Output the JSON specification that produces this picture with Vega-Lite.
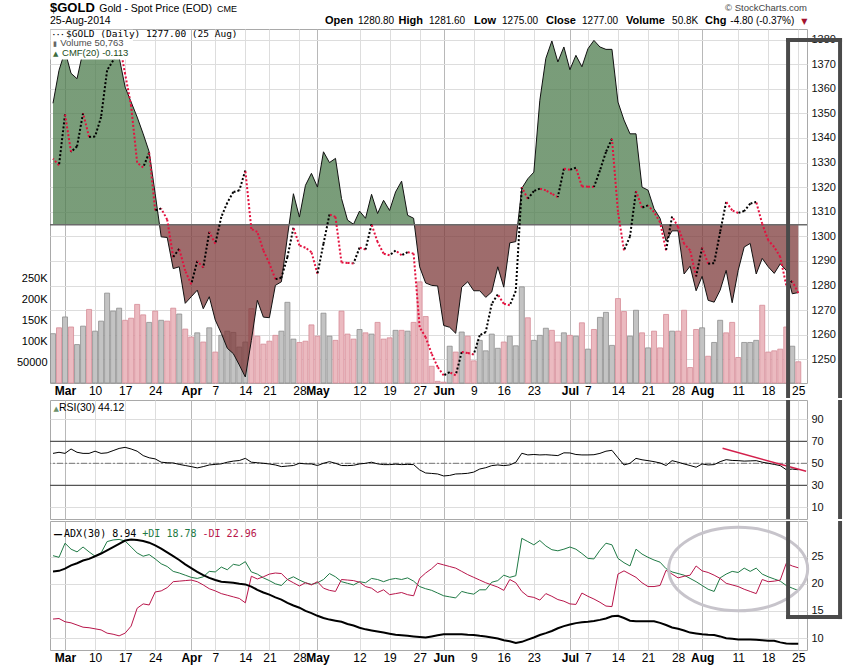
{
  "$schema": "https://vega.github.io/schema/vega-lite/v6.json",
  "padding": {"left": 15, "top": 1, "right": 2, "bottom": 2},
  "spacing": 0,
  "config": {
    "font": "Liberation Sans",
    "view": {"stroke": "#a9a9a9", "strokeWidth": 1},
    "axis": {"labelFont": "Liberation Sans", "labelFontSize": 11, "labelColor": "#111111", "gridColor": "#dddddd", "ticks": false, "domain": false}
  },
  "datasets": {
    "gold": [
      {"i":0,"date":"2014-02-27","close":1331.6,"volume":118000,"up":true,"cmf":0.203,"rsi":59,"adx":22.3,"pdi":25.2,"mdi":13.5},
      {"i":1,"date":"2014-02-28","close":1328.9,"volume":132000,"up":false,"cmf":0.258,"rsi":60,"adx":22.4,"pdi":24.9,"mdi":13.6},
      {"i":2,"date":"2014-03-03","close":1349.6,"volume":158000,"up":true,"cmf":0.29,"rsi":59,"adx":22.8,"pdi":27.5,"mdi":13.0},
      {"i":3,"date":"2014-03-04","close":1334.3,"volume":134000,"up":false,"cmf":0.253,"rsi":63,"adx":23.4,"pdi":26.4,"mdi":12.8},
      {"i":4,"date":"2014-03-05","close":1336.6,"volume":92000,"up":true,"cmf":0.244,"rsi":60,"adx":23.8,"pdi":25.9,"mdi":12.4},
      {"i":5,"date":"2014-03-06","close":1350.1,"volume":136000,"up":true,"cmf":0.29,"rsi":59,"adx":24.3,"pdi":26.8,"mdi":12.0},
      {"i":6,"date":"2014-03-07","close":1340.4,"volume":176000,"up":false,"cmf":0.30,"rsi":59,"adx":24.6,"pdi":25.9,"mdi":11.9},
      {"i":7,"date":"2014-03-10","close":1340.6,"volume":124000,"up":true,"cmf":0.30,"rsi":61,"adx":25.1,"pdi":25.1,"mdi":11.7},
      {"i":8,"date":"2014-03-11","close":1348.5,"volume":148000,"up":true,"cmf":0.305,"rsi":59,"adx":25.6,"pdi":25.7,"mdi":11.5},
      {"i":9,"date":"2014-03-12","close":1367.5,"volume":215000,"up":true,"cmf":0.30,"rsi":59.5,"adx":26.2,"pdi":27.8,"mdi":10.9},
      {"i":10,"date":"2014-03-13","close":1371.5,"volume":172000,"up":true,"cmf":0.297,"rsi":61.5,"adx":26.8,"pdi":28.1,"mdi":10.7},
      {"i":11,"date":"2014-03-14","close":1379.0,"volume":179000,"up":true,"cmf":0.28,"rsi":63.5,"adx":27.4,"pdi":28.2,"mdi":10.4},
      {"i":12,"date":"2014-03-17","close":1366.0,"volume":150000,"up":false,"cmf":0.23,"rsi":64.5,"adx":28.0,"pdi":27.9,"mdi":10.9},
      {"i":13,"date":"2014-03-18","close":1353.0,"volume":155000,"up":false,"cmf":0.205,"rsi":63,"adx":28.2,"pdi":26.8,"mdi":12.2},
      {"i":14,"date":"2014-03-19","close":1330.0,"volume":188000,"up":false,"cmf":0.18,"rsi":61,"adx":28.1,"pdi":25.7,"mdi":15.5},
      {"i":15,"date":"2014-03-20","close":1328.0,"volume":163000,"up":false,"cmf":0.152,"rsi":57,"adx":27.9,"pdi":25.1,"mdi":16.3},
      {"i":16,"date":"2014-03-21","close":1334.0,"volume":145000,"up":true,"cmf":0.122,"rsi":55,"adx":27.6,"pdi":25.4,"mdi":16.1},
      {"i":17,"date":"2014-03-24","close":1310.6,"volume":172000,"up":false,"cmf":0.052,"rsi":54,"adx":27.1,"pdi":24.6,"mdi":18.5},
      {"i":18,"date":"2014-03-25","close":1311.3,"volume":150000,"up":true,"cmf":-0.02,"rsi":51,"adx":26.5,"pdi":23.7,"mdi":18.7},
      {"i":19,"date":"2014-03-26","close":1306.8,"volume":148000,"up":false,"cmf":-0.021,"rsi":50.5,"adx":25.8,"pdi":23.2,"mdi":19.3},
      {"i":20,"date":"2014-03-27","close":1291.6,"volume":179000,"up":false,"cmf":-0.073,"rsi":50.3,"adx":25.1,"pdi":22.3,"mdi":20.4},
      {"i":21,"date":"2014-03-28","close":1294.9,"volume":165000,"up":true,"cmf":-0.07,"rsi":49,"adx":24.4,"pdi":22.0,"mdi":20.5},
      {"i":22,"date":"2014-03-31","close":1286.0,"volume":129000,"up":false,"cmf":-0.131,"rsi":48,"adx":23.6,"pdi":21.6,"mdi":20.6},
      {"i":23,"date":"2014-04-01","close":1280.5,"volume":110000,"up":false,"cmf":-0.12,"rsi":47,"adx":22.9,"pdi":21.2,"mdi":20.7},
      {"i":24,"date":"2014-04-02","close":1290.0,"volume":120000,"up":true,"cmf":-0.109,"rsi":45.8,"adx":22.2,"pdi":21.0,"mdi":20.4},
      {"i":25,"date":"2014-04-03","close":1287.3,"volume":98000,"up":false,"cmf":-0.14,"rsi":47,"adx":21.6,"pdi":21.3,"mdi":19.8},
      {"i":26,"date":"2014-04-04","close":1301.8,"volume":132000,"up":true,"cmf":-0.12,"rsi":48.5,"adx":21.1,"pdi":22.3,"mdi":19.1},
      {"i":27,"date":"2014-04-07","close":1297.0,"volume":74000,"up":false,"cmf":-0.159,"rsi":49,"adx":20.7,"pdi":22.2,"mdi":18.7},
      {"i":28,"date":"2014-04-08","close":1307.9,"volume":114000,"up":true,"cmf":-0.181,"rsi":49.5,"adx":20.4,"pdi":23.1,"mdi":18.2},
      {"i":29,"date":"2014-04-09","close":1313.7,"volume":124000,"up":true,"cmf":-0.206,"rsi":51,"adx":20.3,"pdi":22.6,"mdi":17.9},
      {"i":30,"date":"2014-04-10","close":1318.0,"volume":121000,"up":true,"cmf":-0.215,"rsi":52,"adx":20.2,"pdi":23.6,"mdi":17.6},
      {"i":31,"date":"2014-04-11","close":1318.7,"volume":86000,"up":true,"cmf":-0.234,"rsi":52.5,"adx":20.0,"pdi":23.4,"mdi":17.3},
      {"i":32,"date":"2014-04-14","close":1326.8,"volume":98000,"up":true,"cmf":-0.254,"rsi":54.5,"adx":19.9,"pdi":24.1,"mdi":16.5},
      {"i":33,"date":"2014-04-15","close":1303.0,"volume":178000,"up":false,"cmf":-0.193,"rsi":51,"adx":19.5,"pdi":22.2,"mdi":21.4},
      {"i":34,"date":"2014-04-16","close":1301.8,"volume":112000,"up":false,"cmf":-0.126,"rsi":50.5,"adx":18.9,"pdi":21.8,"mdi":20.9},
      {"i":35,"date":"2014-04-17","close":1294.3,"volume":93000,"up":false,"cmf":-0.154,"rsi":50,"adx":18.4,"pdi":21.1,"mdi":21.3},
      {"i":36,"date":"2014-04-21","close":1289.0,"volume":100000,"up":false,"cmf":-0.155,"rsi":49.4,"adx":18.0,"pdi":20.6,"mdi":21.8},
      {"i":37,"date":"2014-04-22","close":1282.6,"volume":114000,"up":false,"cmf":-0.101,"rsi":48.5,"adx":17.5,"pdi":20.0,"mdi":22.0},
      {"i":38,"date":"2014-04-23","close":1283.2,"volume":124000,"up":true,"cmf":-0.095,"rsi":47,"adx":17.1,"pdi":19.7,"mdi":21.9},
      {"i":39,"date":"2014-04-24","close":1291.6,"volume":193000,"up":true,"cmf":-0.02,"rsi":47.5,"adx":16.5,"pdi":20.8,"mdi":20.8},
      {"i":40,"date":"2014-04-25","close":1303.5,"volume":105000,"up":true,"cmf":0.052,"rsi":48,"adx":16.0,"pdi":21.3,"mdi":20.2},
      {"i":41,"date":"2014-04-28","close":1296.3,"volume":97000,"up":false,"cmf":0.013,"rsi":50,"adx":15.6,"pdi":20.7,"mdi":19.6},
      {"i":42,"date":"2014-04-29","close":1295.4,"volume":100000,"up":false,"cmf":0.066,"rsi":49.5,"adx":15.0,"pdi":20.2,"mdi":20.2},
      {"i":43,"date":"2014-04-30","close":1293.6,"volume":139000,"up":false,"cmf":0.086,"rsi":49.4,"adx":14.6,"pdi":19.9,"mdi":19.8},
      {"i":44,"date":"2014-05-01","close":1284.8,"volume":112000,"up":false,"cmf":0.063,"rsi":48,"adx":14.1,"pdi":20.2,"mdi":20.4},
      {"i":45,"date":"2014-05-02","close":1297.0,"volume":167000,"up":true,"cmf":0.122,"rsi":50,"adx":13.7,"pdi":20.8,"mdi":19.2},
      {"i":46,"date":"2014-05-05","close":1308.9,"volume":112000,"up":true,"cmf":0.104,"rsi":51.5,"adx":13.4,"pdi":21.9,"mdi":18.8},
      {"i":47,"date":"2014-05-06","close":1307.9,"volume":102000,"up":false,"cmf":0.111,"rsi":50,"adx":13.2,"pdi":21.3,"mdi":18.6},
      {"i":48,"date":"2014-05-07","close":1289.4,"volume":172000,"up":false,"cmf":0.044,"rsi":48,"adx":13.0,"pdi":20.4,"mdi":20.8},
      {"i":49,"date":"2014-05-08","close":1289.2,"volume":117000,"up":false,"cmf":0.008,"rsi":47.9,"adx":12.6,"pdi":20.1,"mdi":20.7},
      {"i":50,"date":"2014-05-09","close":1289.0,"volume":105000,"up":false,"cmf":0.001,"rsi":48.2,"adx":12.3,"pdi":19.8,"mdi":20.6},
      {"i":51,"date":"2014-05-12","close":1295.4,"volume":128000,"up":true,"cmf":0.023,"rsi":49.4,"adx":11.9,"pdi":20.4,"mdi":20.3},
      {"i":52,"date":"2014-05-13","close":1294.7,"volume":120000,"up":false,"cmf":0.011,"rsi":50,"adx":11.6,"pdi":20.2,"mdi":19.5},
      {"i":53,"date":"2014-05-14","close":1304.9,"volume":117000,"up":true,"cmf":0.051,"rsi":51,"adx":11.4,"pdi":21.0,"mdi":19.2},
      {"i":54,"date":"2014-05-15","close":1297.7,"volume":145000,"up":false,"cmf":0.019,"rsi":49.5,"adx":11.2,"pdi":20.8,"mdi":18.4},
      {"i":55,"date":"2014-05-16","close":1293.0,"volume":105000,"up":false,"cmf":0.041,"rsi":48.8,"adx":11.0,"pdi":20.4,"mdi":18.9},
      {"i":56,"date":"2014-05-19","close":1292.3,"volume":108000,"up":false,"cmf":0.024,"rsi":48.8,"adx":10.8,"pdi":20.8,"mdi":18.0},
      {"i":57,"date":"2014-05-20","close":1294.3,"volume":126000,"up":true,"cmf":0.055,"rsi":49.2,"adx":10.6,"pdi":21.0,"mdi":18.2},
      {"i":58,"date":"2014-05-21","close":1292.3,"volume":126000,"up":false,"cmf":0.073,"rsi":48.8,"adx":10.5,"pdi":20.8,"mdi":18.4},
      {"i":59,"date":"2014-05-22","close":1293.6,"volume":124000,"up":true,"cmf":0.016,"rsi":49,"adx":10.4,"pdi":21.1,"mdi":18.0},
      {"i":60,"date":"2014-05-23","close":1293.0,"volume":145000,"up":false,"cmf":0.011,"rsi":48.8,"adx":10.3,"pdi":20.5,"mdi":17.8},
      {"i":61,"date":"2014-05-27","close":1263.1,"volume":242000,"up":false,"cmf":-0.07,"rsi":44,"adx":10.2,"pdi":19.5,"mdi":21.0},
      {"i":62,"date":"2014-05-28","close":1259.0,"volume":159000,"up":false,"cmf":-0.097,"rsi":41.2,"adx":10.1,"pdi":19.1,"mdi":22.0},
      {"i":63,"date":"2014-05-29","close":1252.3,"volume":40000,"up":false,"cmf":-0.101,"rsi":40.8,"adx":10.3,"pdi":18.8,"mdi":22.8},
      {"i":64,"date":"2014-05-30","close":1246.9,"volume":4000,"up":false,"cmf":-0.102,"rsi":40.3,"adx":10.5,"pdi":18.3,"mdi":23.8},
      {"i":65,"date":"2014-06-02","close":1243.5,"volume":2000,"up":false,"cmf":-0.168,"rsi":38.5,"adx":10.7,"pdi":17.8,"mdi":23.5},
      {"i":66,"date":"2014-06-03","close":1244.8,"volume":88000,"up":true,"cmf":-0.171,"rsi":39,"adx":10.7,"pdi":17.6,"mdi":23.2},
      {"i":67,"date":"2014-06-04","close":1243.5,"volume":74000,"up":false,"cmf":-0.181,"rsi":40.3,"adx":10.7,"pdi":17.4,"mdi":22.9},
      {"i":68,"date":"2014-06-05","close":1253.0,"volume":122000,"up":true,"cmf":-0.104,"rsi":40.5,"adx":10.7,"pdi":18.6,"mdi":22.3},
      {"i":69,"date":"2014-06-06","close":1252.6,"volume":112000,"up":false,"cmf":-0.095,"rsi":40.9,"adx":10.6,"pdi":18.3,"mdi":21.7},
      {"i":70,"date":"2014-06-09","close":1252.0,"volume":53000,"up":false,"cmf":-0.11,"rsi":42,"adx":10.55,"pdi":18.1,"mdi":21.2},
      {"i":71,"date":"2014-06-10","close":1259.8,"volume":102000,"up":true,"cmf":-0.11,"rsi":44.8,"adx":10.4,"pdi":18.9,"mdi":20.7},
      {"i":72,"date":"2014-06-11","close":1261.1,"volume":77000,"up":true,"cmf":-0.121,"rsi":46,"adx":10.3,"pdi":18.9,"mdi":20.2},
      {"i":73,"date":"2014-06-12","close":1272.6,"volume":117000,"up":true,"cmf":-0.112,"rsi":47.9,"adx":10.1,"pdi":20.3,"mdi":19.8},
      {"i":74,"date":"2014-06-13","close":1276.4,"volume":83000,"up":true,"cmf":-0.07,"rsi":48.5,"adx":9.9,"pdi":20.6,"mdi":19.4},
      {"i":75,"date":"2014-06-16","close":1272.6,"volume":98000,"up":false,"cmf":-0.104,"rsi":47.9,"adx":9.6,"pdi":21.6,"mdi":18.8},
      {"i":76,"date":"2014-06-17","close":1272.0,"volume":112000,"up":true,"cmf":-0.03,"rsi":48.5,"adx":9.4,"pdi":21.2,"mdi":20.8},
      {"i":77,"date":"2014-06-18","close":1277.8,"volume":89000,"up":true,"cmf":-0.028,"rsi":50.9,"adx":9.1,"pdi":21.5,"mdi":20.2},
      {"i":78,"date":"2014-06-19","close":1320.0,"volume":230000,"up":true,"cmf":0.061,"rsi":59.1,"adx":9.3,"pdi":28.4,"mdi":18.6},
      {"i":79,"date":"2014-06-20","close":1315.3,"volume":156000,"up":false,"cmf":0.077,"rsi":57.6,"adx":9.7,"pdi":27.8,"mdi":17.7},
      {"i":80,"date":"2014-06-23","close":1318.4,"volume":102000,"up":true,"cmf":0.088,"rsi":58,"adx":10.1,"pdi":27.2,"mdi":17.5},
      {"i":81,"date":"2014-06-24","close":1319.4,"volume":114000,"up":true,"cmf":0.208,"rsi":57.6,"adx":10.55,"pdi":28.0,"mdi":17.0},
      {"i":82,"date":"2014-06-25","close":1318.7,"volume":131000,"up":true,"cmf":0.278,"rsi":57.8,"adx":10.9,"pdi":27.0,"mdi":18.2},
      {"i":83,"date":"2014-06-26","close":1317.3,"volume":126000,"up":false,"cmf":0.307,"rsi":57.4,"adx":11.3,"pdi":26.3,"mdi":17.7},
      {"i":84,"date":"2014-06-27","close":1316.0,"volume":98000,"up":false,"cmf":0.272,"rsi":57,"adx":11.8,"pdi":26.1,"mdi":17.1},
      {"i":85,"date":"2014-06-30","close":1327.5,"volume":120000,"up":true,"cmf":0.297,"rsi":59.5,"adx":12.2,"pdi":26.4,"mdi":16.8},
      {"i":86,"date":"2014-07-01","close":1327.1,"volume":114000,"up":false,"cmf":0.259,"rsi":59.4,"adx":12.5,"pdi":26.8,"mdi":16.3},
      {"i":87,"date":"2014-07-02","close":1327.9,"volume":112000,"up":true,"cmf":0.283,"rsi":58,"adx":12.75,"pdi":26.4,"mdi":16.2},
      {"i":88,"date":"2014-07-03","close":1320.3,"volume":144000,"up":false,"cmf":0.264,"rsi":57.6,"adx":12.9,"pdi":25.6,"mdi":18.3},
      {"i":89,"date":"2014-07-07","close":1320.2,"volume":81000,"up":true,"cmf":0.294,"rsi":57.6,"adx":13.0,"pdi":24.7,"mdi":17.7},
      {"i":90,"date":"2014-07-08","close":1320.1,"volume":128000,"up":false,"cmf":0.308,"rsi":57.8,"adx":13.15,"pdi":24.6,"mdi":17.2},
      {"i":91,"date":"2014-07-09","close":1326.8,"volume":157000,"up":true,"cmf":0.297,"rsi":59,"adx":13.35,"pdi":26.2,"mdi":16.6},
      {"i":92,"date":"2014-07-10","close":1334.3,"volume":169000,"up":true,"cmf":0.293,"rsi":61,"adx":13.6,"pdi":27.5,"mdi":15.9},
      {"i":93,"date":"2014-07-11","close":1339.7,"volume":90000,"up":true,"cmf":0.293,"rsi":61.8,"adx":14.0,"pdi":27.2,"mdi":15.8},
      {"i":94,"date":"2014-07-14","close":1310.0,"volume":202000,"up":false,"cmf":0.205,"rsi":55,"adx":14.1,"pdi":24.7,"mdi":21.8},
      {"i":95,"date":"2014-07-15","close":1294.3,"volume":171000,"up":false,"cmf":0.175,"rsi":48.5,"adx":13.7,"pdi":23.9,"mdi":22.4},
      {"i":96,"date":"2014-07-16","close":1300.0,"volume":112000,"up":true,"cmf":0.152,"rsi":50,"adx":13.2,"pdi":23.3,"mdi":21.8},
      {"i":97,"date":"2014-07-17","close":1318.4,"volume":174000,"up":true,"cmf":0.152,"rsi":54.5,"adx":13.1,"pdi":26.4,"mdi":21.2},
      {"i":98,"date":"2014-07-18","close":1311.7,"volume":120000,"up":false,"cmf":0.063,"rsi":53.2,"adx":13.1,"pdi":25.5,"mdi":20.2},
      {"i":99,"date":"2014-07-21","close":1312.6,"volume":84000,"up":true,"cmf":0.058,"rsi":52.4,"adx":13.1,"pdi":24.9,"mdi":19.5},
      {"i":100,"date":"2014-07-22","close":1309.9,"volume":124000,"up":false,"cmf":0.027,"rsi":51.5,"adx":13.1,"pdi":24.4,"mdi":19.5},
      {"i":101,"date":"2014-07-23","close":1305.8,"volume":84000,"up":false,"cmf":0.011,"rsi":50.3,"adx":12.8,"pdi":24.0,"mdi":19.7},
      {"i":102,"date":"2014-07-24","close":1294.3,"volume":164000,"up":false,"cmf":-0.027,"rsi":48,"adx":12.4,"pdi":22.8,"mdi":22.5},
      {"i":103,"date":"2014-07-25","close":1308.1,"volume":124000,"up":true,"cmf":-0.01,"rsi":52.4,"adx":11.95,"pdi":22.2,"mdi":21.8},
      {"i":104,"date":"2014-07-28","close":1303.8,"volume":124000,"up":false,"cmf":-0.01,"rsi":51,"adx":11.7,"pdi":21.9,"mdi":21.1},
      {"i":105,"date":"2014-07-29","close":1297.0,"volume":174000,"up":false,"cmf":-0.082,"rsi":49.4,"adx":11.4,"pdi":21.6,"mdi":21.4},
      {"i":106,"date":"2014-07-30","close":1294.3,"volume":37000,"up":false,"cmf":-0.069,"rsi":48,"adx":11.0,"pdi":21.0,"mdi":21.6},
      {"i":107,"date":"2014-07-31","close":1283.7,"volume":128000,"up":false,"cmf":-0.11,"rsi":46.4,"adx":10.85,"pdi":20.4,"mdi":23.3},
      {"i":108,"date":"2014-08-01","close":1295.4,"volume":132000,"up":true,"cmf":-0.086,"rsi":49.4,"adx":10.7,"pdi":19.7,"mdi":22.4},
      {"i":109,"date":"2014-08-04","close":1288.9,"volume":64000,"up":false,"cmf":-0.126,"rsi":48.5,"adx":10.6,"pdi":19.0,"mdi":22.1},
      {"i":110,"date":"2014-08-05","close":1289.1,"volume":97000,"up":true,"cmf":-0.129,"rsi":48.8,"adx":10.55,"pdi":18.6,"mdi":21.6},
      {"i":111,"date":"2014-08-06","close":1301.8,"volume":150000,"up":true,"cmf":-0.109,"rsi":51.5,"adx":10.3,"pdi":21.1,"mdi":21.0},
      {"i":112,"date":"2014-08-07","close":1314.0,"volume":120000,"up":false,"cmf":-0.076,"rsi":53.3,"adx":9.95,"pdi":21.8,"mdi":20.1},
      {"i":113,"date":"2014-08-08","close":1310.6,"volume":145000,"up":false,"cmf":-0.13,"rsi":52.6,"adx":9.85,"pdi":22.3,"mdi":19.8},
      {"i":114,"date":"2014-08-11","close":1309.5,"volume":61000,"up":false,"cmf":-0.076,"rsi":52.4,"adx":9.75,"pdi":22.1,"mdi":19.5},
      {"i":115,"date":"2014-08-12","close":1310.3,"volume":97000,"up":true,"cmf":-0.037,"rsi":52,"adx":9.75,"pdi":22.9,"mdi":19.0},
      {"i":116,"date":"2014-08-13","close":1313.3,"volume":97000,"up":true,"cmf":-0.031,"rsi":52.2,"adx":9.75,"pdi":22.3,"mdi":18.6},
      {"i":117,"date":"2014-08-14","close":1314.0,"volume":102000,"up":true,"cmf":-0.082,"rsi":52.4,"adx":9.7,"pdi":22.9,"mdi":18.2},
      {"i":118,"date":"2014-08-15","close":1305.1,"volume":186000,"up":false,"cmf":-0.056,"rsi":51,"adx":9.6,"pdi":21.8,"mdi":20.8},
      {"i":119,"date":"2014-08-18","close":1298.4,"volume":74000,"up":false,"cmf":-0.07,"rsi":50,"adx":9.5,"pdi":21.3,"mdi":20.4},
      {"i":120,"date":"2014-08-19","close":1295.7,"volume":77000,"up":false,"cmf":-0.081,"rsi":49,"adx":9.5,"pdi":20.9,"mdi":20.5},
      {"i":121,"date":"2014-08-20","close":1291.6,"volume":81000,"up":false,"cmf":-0.065,"rsi":47.9,"adx":9.2,"pdi":20.5,"mdi":20.7},
      {"i":122,"date":"2014-08-21","close":1280.1,"volume":134000,"up":false,"cmf":-0.076,"rsi":44.2,"adx":9.0,"pdi":19.7,"mdi":23.8},
      {"i":123,"date":"2014-08-22","close":1281.8,"volume":88000,"up":true,"cmf":-0.115,"rsi":44.8,"adx":8.95,"pdi":19.2,"mdi":23.3},
      {"i":124,"date":"2014-08-25","close":1277.0,"volume":50763,"up":false,"cmf":-0.113,"rsi":44.12,"adx":8.94,"pdi":18.78,"mdi":22.96}
    ]
  },
  "data": {"name": "gold"},
  "vconcat": [
    {
      "width": 757,
      "height": 354,
      "layer": [
        {
          "mark": {"type": "bar", "width": 5, "strokeWidth": 0.8},
          "encoding": {
            "x": {"field": "i", "type": "quantitative", "scale": {"domain": [-0.5, 125.45], "nice": false, "zero": false, "padding": 0},
              "axis": {"orient": "bottom", "title": null, "grid": true, "labelFontSize": 12, "labelPadding": 2, "labelColor": "#000000", "labelOverlap": false, "labelFlush": false,
                "values": [2,7,12,17,23,27,32,36,41,44,51,56,61,65,70,75,80,86,89,94,99,104,108,114,119,124],
                "labelExpr": "{'2':'Mar','7':'10','12':'17','17':'24','23':'Apr','27':'7','32':'14','36':'21','41':'28','44':'May','51':'12','56':'19','61':'27','65':'Jun','70':'9','75':'16','80':'23','86':'Jul','89':'7','94':'14','99':'21','104':'28','108':'Aug','114':'11','119':'18','124':'25'}[datum.value]",
                "labelFontWeight": {"condition": {"test": "indexof([2,23,44,65,86,108], datum.value) >= 0", "value": "bold"}, "value": "normal"},
                "gridColor": {"condition": {"test": "indexof([2,23,44,65,86,108], datum.value) >= 0", "value": "#b8b8b8"}, "value": "#dddddd"}}},
            "y": {"field": "volume", "type": "quantitative", "scale": {"domain": [0, 846900], "nice": false},
              "axis": {"orient": "left", "title": null, "grid": false, "labelPadding": 3, "labelColor": "#000000", "labelOverlap": false,
                "values": [50000, 100000, 150000, 200000, 250000],
                "labelExpr": "datum.value == 50000 ? '50000' : format(datum.value / 1000, 'd') + 'K'"}},
            "fill": {"condition": {"test": "datum.up", "value": "#c3c3c3"}, "value": "#ebbac0"},
            "stroke": {"condition": {"test": "datum.up", "value": "#8e8e8e"}, "value": "#d68c97"}
          }
        },
        {
          "layer": [
            {
              "mark": {"type": "area", "opacity": 0.75,
                "fill": {"gradient": "linear", "x1": 0, "y1": 0, "x2": 0, "y2": 1,
                  "stops": [{"offset": 0, "color": "#4d7c4d"}, {"offset": 0.548, "color": "#4d7c4d"}, {"offset": 0.548, "color": "#7e3b3b"}, {"offset": 1, "color": "#7e3b3b"}]},
                "line": {"color": "#111111", "strokeWidth": 1}},
              "encoding": {
                "x": {"field": "i", "type": "quantitative", "scale": {"domain": [-0.5, 125.45], "nice": false, "zero": false, "padding": 0}, "axis": null},
                "y": {"field": "cmf", "type": "quantitative", "scale": {"domain": [-0.264, 0.327], "nice": false, "zero": false}, "axis": null},
                "y2": {"datum": 0}
              }
            },
            {
              "data": {"values": [{}]},
              "mark": {"type": "rule", "color": "#6b6b6b", "strokeWidth": 1.5},
              "encoding": {"y": {"datum": 0, "scale": {"domain": [-0.264, 0.327], "nice": false, "zero": false}, "axis": null}}
            }
          ],
          "resolve": {"axis": {"x": "independent", "y": "independent"}}
        },
        {
          "layer": [
            {
              "transform": [
                {"window": [{"op": "lag", "field": "close", "as": "prev_close"}, {"op": "lag", "field": "i", "as": "prev_i"}], "sort": [{"field": "i", "order": "ascending"}]},
                {"filter": "datum.prev_i != null"}
              ],
              "mark": {"type": "rule", "strokeDash": [2, 2], "strokeWidth": 2},
              "encoding": {
                "x": {"field": "i", "type": "quantitative", "scale": {"domain": [-0.5, 125.45], "nice": false, "zero": false, "padding": 0}, "axis": null},
                "x2": {"field": "prev_i"},
                "y": {"field": "close", "type": "quantitative", "scale": {"domain": [1240.4, 1384.3], "nice": false, "zero": false},
                  "axis": {"orient": "right", "title": null, "grid": true, "labelPadding": 4, "labelColor": "#111111", "labelOverlap": false, "format": "d",
                    "values": [1250, 1260, 1270, 1280, 1290, 1300, 1310, 1320, 1330, 1340, 1350, 1360, 1370, 1380]}},
                "y2": {"field": "prev_close"},
                "color": {"condition": {"test": "datum.close >= datum.prev_close", "value": "#000000"}, "value": "#e3123f"}
              }
            },
            {
              "data": {"values": [{}]},
              "mark": {"type": "rect", "fill": "#ffffff"},
              "encoding": {
                "x": {"datum": -0.42, "scale": {"domain": [-0.5, 125.45], "nice": false, "zero": false, "padding": 0}, "axis": null},
                "x2": {"datum": 13.3},
                "y": {"datum": 1384.0, "scale": {"domain": [1240.4, 1384.3], "nice": false, "zero": false}, "axis": null},
                "y2": {"datum": 1371.9}
              }
            },
            {"data": {"values": [{}]}, "mark": {"type": "text", "text": "···", "align": "left", "baseline": "alphabetic", "font": "DejaVu Sans Mono", "fontSize": 7, "fontWeight": "bold", "color": "#000000"},
              "encoding": {"x": {"datum": -0.2, "scale": {"domain": [-0.5, 125.45], "nice": false, "zero": false, "padding": 0}, "axis": null}, "y": {"datum": 1381.2, "scale": {"domain": [1240.4, 1384.3], "nice": false, "zero": false}, "axis": null}}},
            {"data": {"values": [{}]}, "mark": {"type": "text", "text": "$GOLD (Daily) 1277.00 (25 Aug)", "align": "left", "baseline": "alphabetic", "font": "DejaVu Sans Mono", "fontSize": 9.5, "color": "#000000"},
              "encoding": {"x": {"datum": 2.16, "scale": {"domain": [-0.5, 125.45], "nice": false, "zero": false, "padding": 0}, "axis": null}, "y": {"datum": 1381.2, "scale": {"domain": [1240.4, 1384.3], "nice": false, "zero": false}, "axis": null}}},
            {"data": {"values": [{}]}, "mark": {"type": "text", "text": "▮", "align": "left", "baseline": "alphabetic", "font": "DejaVu Sans", "fontSize": 7, "color": "#666666"},
              "encoding": {"x": {"datum": 0.0, "scale": {"domain": [-0.5, 125.45], "nice": false, "zero": false, "padding": 0}, "axis": null}, "y": {"datum": 1377.3, "scale": {"domain": [1240.4, 1384.3], "nice": false, "zero": false}, "axis": null}}},
            {"data": {"values": [{}]}, "mark": {"type": "text", "text": "Volume 50,763", "align": "left", "baseline": "alphabetic", "fontSize": 9.5, "color": "#4d4d4d"},
              "encoding": {"x": {"datum": 1.2, "scale": {"domain": [-0.5, 125.45], "nice": false, "zero": false, "padding": 0}, "axis": null}, "y": {"datum": 1377.3, "scale": {"domain": [1240.4, 1384.3], "nice": false, "zero": false}, "axis": null}}},
            {"data": {"values": [{}]}, "mark": {"type": "text", "text": "▲", "align": "left", "baseline": "alphabetic", "font": "DejaVu Sans", "fontSize": 7, "color": "#3d6b3d"},
              "encoding": {"x": {"datum": 0.0, "scale": {"domain": [-0.5, 125.45], "nice": false, "zero": false, "padding": 0}, "axis": null}, "y": {"datum": 1373.4, "scale": {"domain": [1240.4, 1384.3], "nice": false, "zero": false}, "axis": null}}},
            {"data": {"values": [{}]}, "mark": {"type": "text", "text": "CMF(20) -0.113", "align": "left", "baseline": "alphabetic", "fontSize": 9.5, "color": "#1b4d1b"},
              "encoding": {"x": {"datum": 1.5, "scale": {"domain": [-0.5, 125.45], "nice": false, "zero": false, "padding": 0}, "axis": null}, "y": {"datum": 1373.4, "scale": {"domain": [1240.4, 1384.3], "nice": false, "zero": false}, "axis": null}}},
            {"data": {"values": [{}]}, "mark": {"type": "text", "text": "$GOLD", "align": "left", "baseline": "alphabetic", "fontSize": 13, "fontWeight": "bold", "color": "#000000"},
              "encoding": {"x": {"datum": -0.5, "scale": {"domain": [-0.5, 125.45], "nice": false, "zero": false, "padding": 0}, "axis": null}, "y": {"datum": 1391.2, "scale": {"domain": [1240.4, 1384.3], "nice": false, "zero": false}, "axis": null}}},
            {"data": {"values": [{}]}, "mark": {"type": "text", "text": "Gold - Spot Price (EOD)", "align": "left", "baseline": "alphabetic", "fontSize": 10.5, "color": "#000000"},
              "encoding": {"x": {"datum": 7.7, "scale": {"domain": [-0.5, 125.45], "nice": false, "zero": false, "padding": 0}, "axis": null}, "y": {"datum": 1391.2, "scale": {"domain": [1240.4, 1384.3], "nice": false, "zero": false}, "axis": null}}},
            {"data": {"values": [{}]}, "mark": {"type": "text", "text": "CME", "align": "left", "baseline": "alphabetic", "fontSize": 9, "color": "#000000"},
              "encoding": {"x": {"datum": 27.3, "scale": {"domain": [-0.5, 125.45], "nice": false, "zero": false, "padding": 0}, "axis": null}, "y": {"datum": 1391.2, "scale": {"domain": [1240.4, 1384.3], "nice": false, "zero": false}, "axis": null}}},
            {"data": {"values": [{}]}, "mark": {"type": "text", "text": "25-Aug-2014", "align": "left", "baseline": "alphabetic", "fontSize": 10.5, "color": "#000000"},
              "encoding": {"x": {"datum": -0.5, "scale": {"domain": [-0.5, 125.45], "nice": false, "zero": false, "padding": 0}, "axis": null}, "y": {"datum": 1386.3, "scale": {"domain": [1240.4, 1384.3], "nice": false, "zero": false}, "axis": null}}},
            {"data": {"values": [{}]}, "mark": {"type": "text", "text": "© StockCharts.com", "align": "right", "baseline": "alphabetic", "fontSize": 9.5, "color": "#444444"},
              "encoding": {"x": {"datum": 125.45, "scale": {"domain": [-0.5, 125.45], "nice": false, "zero": false, "padding": 0}, "axis": null}, "y": {"datum": 1391.8, "scale": {"domain": [1240.4, 1384.3], "nice": false, "zero": false}, "axis": null}}},
            {"data": {"values": [{}]}, "mark": {"type": "text", "text": "Open", "align": "left", "baseline": "alphabetic", "fontSize": 11, "fontWeight": "bold", "color": "#000000"},
              "encoding": {"x": {"datum": 45.26, "scale": {"domain": [-0.5, 125.45], "nice": false, "zero": false, "padding": 0}, "axis": null}, "y": {"datum": 1386.3, "scale": {"domain": [1240.4, 1384.3], "nice": false, "zero": false}, "axis": null}}},
            {"data": {"values": [{}]}, "mark": {"type": "text", "text": "1280.80", "align": "left", "baseline": "alphabetic", "fontSize": 10, "color": "#000000"},
              "encoding": {"x": {"datum": 50.75, "scale": {"domain": [-0.5, 125.45], "nice": false, "zero": false, "padding": 0}, "axis": null}, "y": {"datum": 1386.3, "scale": {"domain": [1240.4, 1384.3], "nice": false, "zero": false}, "axis": null}}},
            {"data": {"values": [{}]}, "mark": {"type": "text", "text": "High", "align": "left", "baseline": "alphabetic", "fontSize": 11, "fontWeight": "bold", "color": "#000000"},
              "encoding": {"x": {"datum": 57.5, "scale": {"domain": [-0.5, 125.45], "nice": false, "zero": false, "padding": 0}, "axis": null}, "y": {"datum": 1386.3, "scale": {"domain": [1240.4, 1384.3], "nice": false, "zero": false}, "axis": null}}},
            {"data": {"values": [{}]}, "mark": {"type": "text", "text": "1281.60", "align": "left", "baseline": "alphabetic", "fontSize": 10, "color": "#000000"},
              "encoding": {"x": {"datum": 62.56, "scale": {"domain": [-0.5, 125.45], "nice": false, "zero": false, "padding": 0}, "axis": null}, "y": {"datum": 1386.3, "scale": {"domain": [1240.4, 1384.3], "nice": false, "zero": false}, "axis": null}}},
            {"data": {"values": [{}]}, "mark": {"type": "text", "text": "Low", "align": "left", "baseline": "alphabetic", "fontSize": 11, "fontWeight": "bold", "color": "#000000"},
              "encoding": {"x": {"datum": 70.05, "scale": {"domain": [-0.5, 125.45], "nice": false, "zero": false, "padding": 0}, "axis": null}, "y": {"datum": 1386.3, "scale": {"domain": [1240.4, 1384.3], "nice": false, "zero": false}, "axis": null}}},
            {"data": {"values": [{}]}, "mark": {"type": "text", "text": "1275.00", "align": "left", "baseline": "alphabetic", "fontSize": 10, "color": "#000000"},
              "encoding": {"x": {"datum": 74.71, "scale": {"domain": [-0.5, 125.45], "nice": false, "zero": false, "padding": 0}, "axis": null}, "y": {"datum": 1386.3, "scale": {"domain": [1240.4, 1384.3], "nice": false, "zero": false}, "axis": null}}},
            {"data": {"values": [{}]}, "mark": {"type": "text", "text": "Close", "align": "left", "baseline": "alphabetic", "fontSize": 11, "fontWeight": "bold", "color": "#000000"},
              "encoding": {"x": {"datum": 82.03, "scale": {"domain": [-0.5, 125.45], "nice": false, "zero": false, "padding": 0}, "axis": null}, "y": {"datum": 1386.3, "scale": {"domain": [1240.4, 1384.3], "nice": false, "zero": false}, "axis": null}}},
            {"data": {"values": [{}]}, "mark": {"type": "text", "text": "1277.00", "align": "left", "baseline": "alphabetic", "fontSize": 10, "color": "#000000"},
              "encoding": {"x": {"datum": 88.02, "scale": {"domain": [-0.5, 125.45], "nice": false, "zero": false, "padding": 0}, "axis": null}, "y": {"datum": 1386.3, "scale": {"domain": [1240.4, 1384.3], "nice": false, "zero": false}, "axis": null}}},
            {"data": {"values": [{}]}, "mark": {"type": "text", "text": "Volume", "align": "left", "baseline": "alphabetic", "fontSize": 11, "fontWeight": "bold", "color": "#000000"},
              "encoding": {"x": {"datum": 95.34, "scale": {"domain": [-0.5, 125.45], "nice": false, "zero": false, "padding": 0}, "axis": null}, "y": {"datum": 1386.3, "scale": {"domain": [1240.4, 1384.3], "nice": false, "zero": false}, "axis": null}}},
            {"data": {"values": [{}]}, "mark": {"type": "text", "text": "50.8K", "align": "left", "baseline": "alphabetic", "fontSize": 10, "color": "#000000"},
              "encoding": {"x": {"datum": 103.0, "scale": {"domain": [-0.5, 125.45], "nice": false, "zero": false, "padding": 0}, "axis": null}, "y": {"datum": 1386.3, "scale": {"domain": [1240.4, 1384.3], "nice": false, "zero": false}, "axis": null}}},
            {"data": {"values": [{}]}, "mark": {"type": "text", "text": "Chg", "align": "left", "baseline": "alphabetic", "fontSize": 11, "fontWeight": "bold", "color": "#000000"},
              "encoding": {"x": {"datum": 108.49, "scale": {"domain": [-0.5, 125.45], "nice": false, "zero": false, "padding": 0}, "axis": null}, "y": {"datum": 1386.3, "scale": {"domain": [1240.4, 1384.3], "nice": false, "zero": false}, "axis": null}}},
            {"data": {"values": [{}]}, "mark": {"type": "text", "text": "-4.80 (-0.37%)", "align": "left", "baseline": "alphabetic", "fontSize": 10, "color": "#000000"},
              "encoding": {"x": {"datum": 112.7, "scale": {"domain": [-0.5, 125.45], "nice": false, "zero": false, "padding": 0}, "axis": null}, "y": {"datum": 1386.3, "scale": {"domain": [1240.4, 1384.3], "nice": false, "zero": false}, "axis": null}}},
            {"data": {"values": [{}]}, "mark": {"type": "text", "text": "▼", "align": "center", "baseline": "alphabetic", "font": "DejaVu Sans", "fontSize": 8, "color": "#a3122f"},
              "encoding": {"x": {"datum": 125.0, "scale": {"domain": [-0.5, 125.45], "nice": false, "zero": false, "padding": 0}, "axis": null}, "y": {"datum": 1386.5, "scale": {"domain": [1240.4, 1384.3], "nice": false, "zero": false}, "axis": null}}},
            {"data": {"values": [{}]}, "mark": {"type": "rect", "fill": "#4a4a4a"},
              "encoding": {"x": {"datum": 121.97, "scale": {"domain": [-0.5, 125.45], "nice": false, "zero": false, "padding": 0}, "axis": null}, "x2": {"datum": 131.28}, "y": {"datum": 1380.65, "scale": {"domain": [1240.4, 1384.3], "nice": false, "zero": false}, "axis": null}, "y2": {"datum": 1379.02}}},
            {"data": {"values": [{}]}, "mark": {"type": "rect", "fill": "#4a4a4a"},
              "encoding": {"x": {"datum": 121.97, "scale": {"domain": [-0.5, 125.45], "nice": false, "zero": false, "padding": 0}, "axis": null}, "x2": {"datum": 122.63}, "y": {"datum": 1380.65, "scale": {"domain": [1240.4, 1384.3], "nice": false, "zero": false}, "axis": null}, "y2": {"datum": 1234.3}}},
            {"data": {"values": [{}]}, "mark": {"type": "rect", "fill": "#4a4a4a"},
              "encoding": {"x": {"datum": 130.62, "scale": {"domain": [-0.5, 125.45], "nice": false, "zero": false, "padding": 0}, "axis": null}, "x2": {"datum": 131.28}, "y": {"datum": 1380.65, "scale": {"domain": [1240.4, 1384.3], "nice": false, "zero": false}, "axis": null}, "y2": {"datum": 1234.3}}}
          ],
          "resolve": {"axis": {"x": "independent", "y": "independent"}}
        }
      ],
      "resolve": {"scale": {"y": "independent"}, "axis": {"x": "independent", "y": "independent"}}
    },
    {
      "width": 757,
      "height": 119,
      "layer": [
        {"data": {"values": [{}]}, "mark": {"type": "rule", "color": "#555555", "strokeWidth": 1.2},
          "encoding": {"y": {"datum": 70, "scale": {"domain": [-0.6, 107.5], "nice": false, "zero": false}, "axis": null}}},
        {"data": {"values": [{}]}, "mark": {"type": "rule", "color": "#555555", "strokeWidth": 1.2},
          "encoding": {"y": {"datum": 30, "scale": {"domain": [-0.6, 107.5], "nice": false, "zero": false}, "axis": null}}},
        {"data": {"values": [{}]}, "mark": {"type": "rule", "color": "#777777", "strokeWidth": 1, "strokeDash": [6, 2, 2, 2]},
          "encoding": {"y": {"datum": 50, "scale": {"domain": [-0.6, 107.5], "nice": false, "zero": false}, "axis": null}}},
        {
          "mark": {"type": "line", "color": "#000000", "strokeWidth": 1},
          "encoding": {
            "x": {"field": "i", "type": "quantitative", "scale": {"domain": [-0.5, 125.45], "nice": false, "zero": false, "padding": 0},
              "axis": {"orient": "bottom", "title": null, "grid": true, "labels": false,
                "values": [2,7,12,17,23,27,32,36,41,44,51,56,61,65,70,75,80,86,89,94,99,104,108,114,119,124],
                "gridColor": {"condition": {"test": "indexof([2,23,44,65,86,108], datum.value) >= 0", "value": "#b8b8b8"}, "value": "#dddddd"}}},
            "y": {"field": "rsi", "type": "quantitative", "scale": {"domain": [-0.6, 107.5], "nice": false, "zero": false},
              "axis": {"orient": "right", "title": null, "grid": true, "labelPadding": 4, "labelColor": "#111111", "labelOverlap": false, "values": [10, 30, 50, 70, 90]}}
          }
        },
        {"data": {"values": [{}]}, "mark": {"type": "rule", "color": "#d3204c", "strokeWidth": 1.5},
          "encoding": {"x": {"datum": 111.4, "scale": {"domain": [-0.5, 125.45], "nice": false, "zero": false, "padding": 0}, "axis": null}, "x2": {"datum": 125.3}, "y": {"datum": 63.6, "scale": {"domain": [-0.6, 107.5], "nice": false, "zero": false}, "axis": null}, "y2": {"datum": 42.7}}},
        {"data": {"values": [{}]}, "mark": {"type": "text", "text": "▲", "align": "left", "baseline": "alphabetic", "font": "DejaVu Sans", "fontSize": 7, "color": "#6a8f6a"},
          "encoding": {"x": {"datum": 0.1, "scale": {"domain": [-0.5, 125.45], "nice": false, "zero": false, "padding": 0}, "axis": null}, "y": {"datum": 97.5, "scale": {"domain": [-0.6, 107.5], "nice": false, "zero": false}, "axis": null}}},
        {"data": {"values": [{}]}, "mark": {"type": "text", "text": "RSI(30) 44.12", "align": "left", "baseline": "alphabetic", "fontSize": 10.5, "color": "#000000"},
          "encoding": {"x": {"datum": 1.0, "scale": {"domain": [-0.5, 125.45], "nice": false, "zero": false, "padding": 0}, "axis": null}, "y": {"datum": 97.5, "scale": {"domain": [-0.6, 107.5], "nice": false, "zero": false}, "axis": null}}},
        {"data": {"values": [{}]}, "mark": {"type": "rect", "fill": "#4a4a4a"},
          "encoding": {"x": {"datum": 121.97, "scale": {"domain": [-0.5, 125.45], "nice": false, "zero": false, "padding": 0}, "axis": null}, "x2": {"datum": 122.63}, "y": {"datum": -0.6, "scale": {"domain": [-0.6, 107.5], "nice": false, "zero": false}, "axis": null}, "y2": {"datum": 107.5}}},
        {"data": {"values": [{}]}, "mark": {"type": "rect", "fill": "#4a4a4a"},
          "encoding": {"x": {"datum": 130.62, "scale": {"domain": [-0.5, 125.45], "nice": false, "zero": false, "padding": 0}, "axis": null}, "x2": {"datum": 131.28}, "y": {"datum": -0.6, "scale": {"domain": [-0.6, 107.5], "nice": false, "zero": false}, "axis": null}, "y2": {"datum": 107.5}}}
      ],
      "resolve": {"axis": {"x": "independent", "y": "independent"}}
    },
    {
      "width": 757,
      "height": 129,
      "layer": [
        {
          "mark": {"type": "line", "color": "#1f7a45", "strokeWidth": 1},
          "encoding": {
            "x": {"field": "i", "type": "quantitative", "scale": {"domain": [-0.5, 125.45], "nice": false, "zero": false, "padding": 0},
              "axis": {"orient": "bottom", "title": null, "grid": true, "labelFontSize": 12, "labelPadding": 2, "labelColor": "#000000", "labelOverlap": false, "labelFlush": false,
                "values": [2,7,12,17,23,27,32,36,41,44,51,56,61,65,70,75,80,86,89,94,99,104,108,114,119,124],
                "labelExpr": "{'2':'Mar','7':'10','12':'17','17':'24','23':'Apr','27':'7','32':'14','36':'21','41':'28','44':'May','51':'12','56':'19','61':'27','65':'Jun','70':'9','75':'16','80':'23','86':'Jul','89':'7','94':'14','99':'21','104':'28','108':'Aug','114':'11','119':'18','124':'25'}[datum.value]",
                "labelFontWeight": {"condition": {"test": "indexof([2,23,44,65,86,108], datum.value) >= 0", "value": "bold"}, "value": "normal"},
                "gridColor": {"condition": {"test": "indexof([2,23,44,65,86,108], datum.value) >= 0", "value": "#b8b8b8"}, "value": "#dddddd"}}},
            "y": {"field": "pdi", "type": "quantitative", "scale": {"domain": [7.79, 31.6], "nice": false, "zero": false},
              "axis": {"orient": "right", "title": null, "grid": true, "labelPadding": 4, "labelColor": "#111111", "labelOverlap": false, "values": [10, 15, 20, 25]}}
          }
        },
        {
          "mark": {"type": "line", "color": "#b8154a", "strokeWidth": 1},
          "encoding": {
            "x": {"field": "i", "type": "quantitative", "scale": {"domain": [-0.5, 125.45], "nice": false, "zero": false, "padding": 0}, "axis": null},
            "y": {"field": "mdi", "type": "quantitative", "scale": {"domain": [7.79, 31.6], "nice": false, "zero": false}, "axis": null}
          }
        },
        {
          "mark": {"type": "line", "color": "#000000", "strokeWidth": 2},
          "encoding": {
            "x": {"field": "i", "type": "quantitative", "scale": {"domain": [-0.5, 125.45], "nice": false, "zero": false, "padding": 0}, "axis": null},
            "y": {"field": "adx", "type": "quantitative", "scale": {"domain": [7.79, 31.6], "nice": false, "zero": false}, "axis": null}
          }
        },
        {"data": {"values": [{}]},
          "mark": {"type": "point", "shape": "M -1 0 C -1 -0.3314 -0.5523 -0.6 0 -0.6 C 0.5523 -0.6 1 -0.3314 1 0 C 1 0.3314 0.5523 0.6 0 0.6 C -0.5523 0.6 -1 0.3314 -1 0 Z", "size": 19321, "filled": false, "stroke": "#c7c4cb", "strokeWidth": 3, "opacity": 1},
          "encoding": {"x": {"datum": 114.0, "scale": {"domain": [-0.5, 125.45], "nice": false, "zero": false, "padding": 0}, "axis": null}, "y": {"datum": 22.73, "scale": {"domain": [7.79, 31.6], "nice": false, "zero": false}, "axis": null}}},
        {"data": {"values": [{}]}, "mark": {"type": "text", "text": "—", "align": "left", "baseline": "alphabetic", "font": "DejaVu Sans", "fontSize": 9, "fontWeight": "bold", "color": "#000000"},
          "encoding": {"x": {"datum": 0.1, "scale": {"domain": [-0.5, 125.45], "nice": false, "zero": false, "padding": 0}, "axis": null}, "y": {"datum": 28.6, "scale": {"domain": [7.79, 31.6], "nice": false, "zero": false}, "axis": null}}},
        {"data": {"values": [{}]}, "mark": {"type": "text", "text": "ADX(30) 8.94", "align": "left", "baseline": "alphabetic", "font": "DejaVu Sans Mono", "fontSize": 10, "color": "#000000"},
          "encoding": {"x": {"datum": 1.83, "scale": {"domain": [-0.5, 125.45], "nice": false, "zero": false, "padding": 0}, "axis": null}, "y": {"datum": 28.6, "scale": {"domain": [7.79, 31.6], "nice": false, "zero": false}, "axis": null}}},
        {"data": {"values": [{}]}, "mark": {"type": "text", "text": "+DI 18.78", "align": "left", "baseline": "alphabetic", "font": "DejaVu Sans Mono", "fontSize": 10, "color": "#1f7a45"},
          "encoding": {"x": {"datum": 14.86, "scale": {"domain": [-0.5, 125.45], "nice": false, "zero": false, "padding": 0}, "axis": null}, "y": {"datum": 28.6, "scale": {"domain": [7.79, 31.6], "nice": false, "zero": false}, "axis": null}}},
        {"data": {"values": [{}]}, "mark": {"type": "text", "text": "-DI 22.96", "align": "left", "baseline": "alphabetic", "font": "DejaVu Sans Mono", "fontSize": 10, "color": "#b8154a"},
          "encoding": {"x": {"datum": 24.88, "scale": {"domain": [-0.5, 125.45], "nice": false, "zero": false, "padding": 0}, "axis": null}, "y": {"datum": 28.6, "scale": {"domain": [7.79, 31.6], "nice": false, "zero": false}, "axis": null}}},
        {"data": {"values": [{}]}, "mark": {"type": "rect", "fill": "#4a4a4a"},
          "encoding": {"x": {"datum": 121.97, "scale": {"domain": [-0.5, 125.45], "nice": false, "zero": false, "padding": 0}, "axis": null}, "x2": {"datum": 122.63}, "y": {"datum": 31.6, "scale": {"domain": [7.79, 31.6], "nice": false, "zero": false}, "axis": null}, "y2": {"datum": 13.5}}},
        {"data": {"values": [{}]}, "mark": {"type": "rect", "fill": "#4a4a4a"},
          "encoding": {"x": {"datum": 130.62, "scale": {"domain": [-0.5, 125.45], "nice": false, "zero": false, "padding": 0}, "axis": null}, "x2": {"datum": 131.28}, "y": {"datum": 31.6, "scale": {"domain": [7.79, 31.6], "nice": false, "zero": false}, "axis": null}, "y2": {"datum": 13.5}}},
        {"data": {"values": [{}]}, "mark": {"type": "rect", "fill": "#4a4a4a"},
          "encoding": {"x": {"datum": 121.97, "scale": {"domain": [-0.5, 125.45], "nice": false, "zero": false, "padding": 0}, "axis": null}, "x2": {"datum": 131.28}, "y": {"datum": 14.24, "scale": {"domain": [7.79, 31.6], "nice": false, "zero": false}, "axis": null}, "y2": {"datum": 13.5}}}
      ],
      "resolve": {"axis": {"x": "independent", "y": "independent"}}
    }
  ]
}
